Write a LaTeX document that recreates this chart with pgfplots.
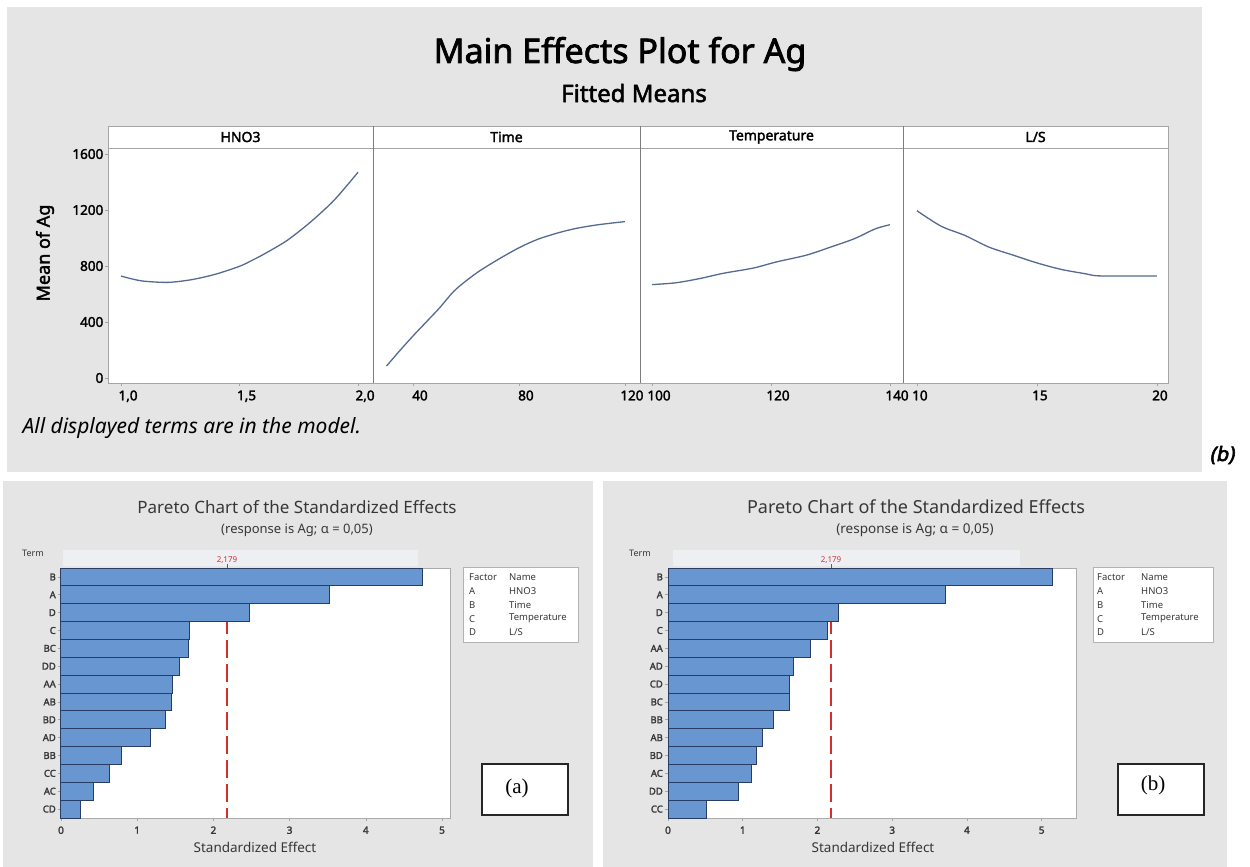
\documentclass[border=0pt]{standalone}
\usepackage{fontspec}
\setmainfont{Noto Sans}[AutoFakeBold=2.2]
\newfontfamily\serifA{Liberation Serif}
\newfontfamily\bsl{Noto Sans}[FakeBold=2.8,FakeSlant=0.2]
\usepackage{pgfplots}
\pgfplotsset{compat=1.18}
\definecolor{bgg}{RGB}{229,229,229}
\definecolor{frameg}{RGB}{165,165,165}
\definecolor{divg}{RGB}{125,125,125}
\definecolor{curve}{RGB}{85,105,145}
\definecolor{barfill}{RGB}{104,150,208}
\definecolor{bardraw}{RGB}{40,60,100}
\definecolor{refred}{RGB}{215,45,45}
\definecolor{ptxt}{RGB}{55,55,55}
\definecolor{strip}{RGB}{238,239,243}
\newcommand{\fs}[1]{\fontsize{#1}{#1}\selectfont}

\pgfplotsset{
  meffect/.style={
    scale only axis, height=235pt, ymin=-36, ymax=1643,
    axis line style={draw=frameg, line width=0.9pt},
    tick align=outside, major tick length=3pt,
    xtick pos=bottom, ytick pos=left,
    tick style={draw=frameg, line width=0.8pt},
    /pgf/number format/assume math mode=true,
    /pgf/number format/1000 sep={},
    tick label style={font=\fs{13.5}\bfseries},
    xticklabel style={yshift=-1pt, xshift=7pt},
    yticklabel style={inner sep=1.5pt},
    axis background/.style={fill=white},
  },
  curveplot/.style={color=curve, line width=1.3pt, smooth, tension=0.5, mark=none},
  pareto/.style={
    scale only axis, height=250pt, y dir=reverse, clip=false,
    ymin=0.5, ymax=14.5, ytick={1,...,14}, xmin=0,
    xtick={0,1,2,3,4,5}, bar width=1,
    xtick pos=bottom, ytick pos=left,
    axis line style={draw=gray!65, line width=0.8pt},
    tick align=outside, major tick length=3pt,
    tick style={draw=gray!70, line width=0.6pt},
    /pgf/number format/assume math mode=true,
    xticklabel style={font=\fs{10}\bfseries, text=ptxt, yshift=-2pt},
    yticklabel style={font=\fs{9.5}\bfseries, text=ptxt, inner sep=2pt},
    axis background/.style={fill=white},
  },
  barplot/.style={xbar, fill=barfill, draw=bardraw, line width=1pt, bar width=1},
  refline/.style={refred, line width=1.8pt, dash pattern=on 18pt off 6pt},
}

\begin{document}
\begin{tikzpicture}
\useasboundingbox (0,0) rectangle (1250pt,-867pt);
\begin{scope}[x=1pt,y=-1pt]
  \fill[bgg] (7,7) rectangle (1202,472);
  \fill[bgg] (3,481) rectangle (593,867);
  \fill[bgg] (603,481) rectangle (1227,867);
  \fill[strip] (63,550) rectangle (418,566);
  \fill[strip] (673,550) rectangle (1020,566);
  \node[font=\fs{34}\bfseries, anchor=base] at (620,63) {Main Effects Plot for Ag};
  \node[font=\fs{24}\bfseries, anchor=base] at (634,102) {Fitted Means};
  \node[rotate=90, font=\fs{18}\bfseries] at (45,253) {Mean of Ag};
  \node[anchor=west, font=\fs{21}\itshape] at (19,428) {All displayed terms are in the model.};
  \node[font=\bsl\fs{20}] at (1222,455) {(b)};
\end{scope}

% ---------- Main effects panels ----------
\begin{axis}[meffect, at={(108pt,-383pt)}, anchor=south west, width=265pt,
  xmin=0.945, xmax=2.063, xtick={1,1.5,2}, xticklabels={{1,0},{1,5},{2,0}},
  ytick={0,400,800,1200,1600}]
\addplot[curveplot] coordinates {(1.0,728) (1.05,706) (1.1,691) (1.2,683) (1.3,703) (1.4,742) (1.5,798) (1.55,838) (1.6,882) (1.7,982) (1.8,1115) (1.9,1272) (2.0,1470)};
\end{axis}

\begin{axis}[meffect, at={(373pt,-383pt)}, anchor=south west, width=267pt,
  xmin=24.9, xmax=125.7, xtick={40,80,120}, ytick=\empty]
\addplot[curveplot] coordinates {(30,85) (35,195) (40,300) (45,400) (50,500) (56,630) (64,750) (72,845) (80,930) (87,990) (95,1038) (102,1070) (110,1095) (120,1117)};
\end{axis}

\begin{axis}[meffect, at={(640pt,-383pt)}, anchor=south west, width=263pt,
  xmin=97.98, xmax=142.18, xtick={100,120,140}, ytick=\empty]
\addplot[curveplot] coordinates {(100,667) (104,680) (108,710) (112,748) (117,785) (121,830) (126,878) (130,935) (134,995) (137.5,1065) (140,1095)};
\end{axis}

\begin{axis}[meffect, at={(903pt,-383pt)}, anchor=south west, width=265pt,
  xmin=9.42, xmax=20.46, xtick={10,15,20}, ytick=\empty,
  xticklabel style={xshift=-4pt}]
\addplot[curveplot] coordinates {(10,1195) (11,1085) (12,1018) (13,935) (14,878) (15,822) (16,776) (17,745) (17.5,730) (18.6,729) (20,729)};
\end{axis}

% headers
\begin{scope}[x=1pt,y=-1pt]
  \draw[frameg, line width=0.9pt, fill=white] (108,126) rectangle (1168,148);
  \foreach \xx in {373,640,903} {\draw[divg, line width=0.9pt] (\xx,126) -- (\xx,383);}
  \node[font=\fs{14}\bfseries] at (240.5,137) {HNO3};
  \node[font=\fs{14}\bfseries] at (506.5,137) {Time};
  \node[font=\fs{14}\bfseries] at (771.5,137) {Temperature};
  \node[font=\fs{14}\bfseries] at (1035.5,137) {L/S};
\end{scope}

% ---------- Pareto (a) ----------
\begin{axis}[pareto, at={(61pt,-818pt)}, anchor=south west, width=389pt, xmax=5.105,
  yticklabels={B,A,D,C,BC,DD,AA,AB,BD,AD,BB,CC,AC,CD}]
\addplot[refline] coordinates {(2.179,0.5) (2.179,14.5)};
\addplot[barplot] coordinates {(4.74,1) (3.53,2) (2.48,3) (1.69,4) (1.67,5) (1.56,6) (1.46,7) (1.45,8) (1.37,9) (1.17,10) (0.80,11) (0.64,12) (0.43,13) (0.25,14)};
\end{axis}

% ---------- Pareto (b) ----------
\begin{axis}[pareto, at={(668pt,-818pt)}, anchor=south west, width=408pt, xmax=5.46,
  yticklabels={B,A,D,C,AA,AD,CD,BC,BB,AB,BD,AC,DD,CC}]
\addplot[refline] coordinates {(2.179,0.5) (2.179,14.5)};
\addplot[barplot] coordinates {(5.15,1) (3.72,2) (2.28,3) (2.13,4) (1.91,5) (1.68,6) (1.63,7) (1.62,8) (1.41,9) (1.26,10) (1.19,11) (1.12,12) (0.95,13) (0.51,14)};
\end{axis}

\begin{scope}[x=1pt,y=-1pt]
  % reference value labels
  \node[font=\fs{8}, text=refred] at (227,560) {2,179};
  \draw[refred, line width=0.8pt] (227,564) -- (227,568);
  \node[font=\fs{8}, text=refred] at (831,560) {2,179};
  \draw[refred, line width=0.8pt] (831,564) -- (831,568);
  % Pareto titles
  \node[font=\fs{17}, text=ptxt] at (297,507) {Pareto Chart of the Standardized Effects};
  \node[font=\fs{13}, text=ptxt] at (297,530) {(response is Ag; α = 0,05)};
  \node[font=\fs{18}, text=ptxt] at (916,507) {Pareto Chart of the Standardized Effects};
  \node[font=\fs{13.5}, text=ptxt] at (915,530) {(response is Ag; α = 0,05)};
  \node[font=\fs{9}, text=ptxt] at (33,553) {Term};
  \node[font=\fs{9}, text=ptxt] at (640,553) {Term};
  \node[font=\fs{13.5}, text=ptxt] at (255,847) {Standardized Effect};
  \node[font=\fs{13.5}, text=ptxt] at (873,847) {Standardized Effect};
  % legends
  \draw[gray!60, fill=white] (463,567) rectangle (578,642);
  \draw[gray!60, fill=white] (1093,567) rectangle (1213,642);
  \foreach \f/\n [count=\i from 0] in {Factor/Name, A/HNO3, B/Time, C/Temperature, D/L\slash S} {
    \node[font=\fs{9.5}, text=ptxt, anchor=west, inner sep=0] at (469,577+13.9*\i) {\f};
    \node[font=\fs{9.5}, text=ptxt, anchor=west, inner sep=0] at (509,577+13.9*\i) {\n};
    \node[font=\fs{9.5}, text=ptxt, anchor=west, inner sep=0] at (1097,577+13.9*\i) {\f};
    \node[font=\fs{9.5}, text=ptxt, anchor=west, inner sep=0] at (1141,577+13.9*\i) {\n};
  }
  % (a) (b) boxes
  \draw[line width=2.5pt, black!85, fill=white] (482,764) rectangle (568,815);
  \node[font=\serifA\fs{21}] at (517,788) {(a)};
  \draw[line width=2.5pt, black!85, fill=white] (1118,764) rectangle (1204,815);
  \node[font=\serifA\fs{21}] at (1153,785) {(b)};
\end{scope}
\end{tikzpicture}
\end{document}
